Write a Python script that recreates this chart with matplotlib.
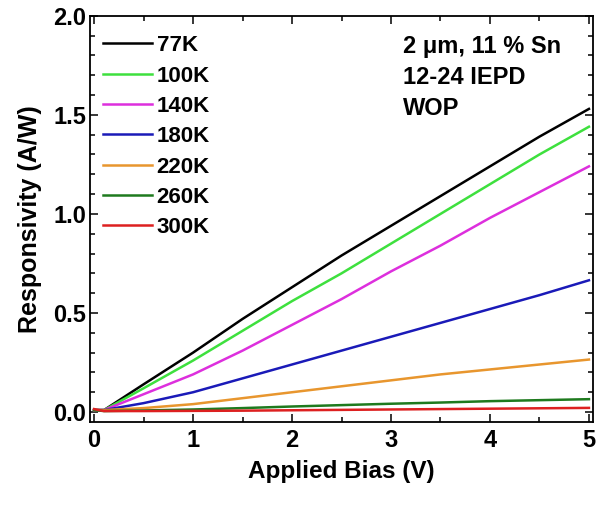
import matplotlib
matplotlib.use('Agg')
import matplotlib.pyplot as plt
from matplotlib.ticker import MultipleLocator

plt.rcParams['font.family'] = ['Liberation Sans', 'DejaVu Sans']
plt.rcParams['font.weight'] = 'bold'

# Applied bias (V) sample points
bias = [0.0, 0.1, 0.5, 1.0, 1.5, 2.0, 2.5, 3.0, 3.5, 4.0, 4.5, 5.0]

# Responsivity (A/W) per temperature
r_77 = [0.01, 0.01, 0.14, 0.30, 0.47, 0.63, 0.79, 0.94, 1.09, 1.24, 1.39, 1.53]
r_100 = [0.01, 0.01, 0.12, 0.26, 0.41, 0.56, 0.70, 0.85, 1.00, 1.15, 1.30, 1.44]
r_140 = [0.01, 0.01, 0.09, 0.19, 0.31, 0.44, 0.57, 0.71, 0.84, 0.98, 1.11, 1.24]
r_180 = [0.01, 0.01, 0.045, 0.10, 0.17, 0.24, 0.31, 0.38, 0.45, 0.52, 0.59, 0.665]
r_220 = [0.01, 0.01, 0.02, 0.04, 0.07, 0.10, 0.13, 0.16, 0.19, 0.215, 0.24, 0.265]
r_260 = [0.01, 0.005, 0.008, 0.013, 0.02, 0.028, 0.035, 0.042, 0.048, 0.055, 0.06, 0.065]
r_300 = [0.015, 0.005, 0.005, 0.006, 0.007, 0.009, 0.011, 0.013, 0.015, 0.017, 0.019, 0.021]

labels = ['77K', '100K', '140K', '180K', '220K', '260K', '300K']
series = [r_77, r_100, r_140, r_180, r_220, r_260, r_300]
colors = ['#000000', '#3ee03e', '#dd2fdd', '#1a1ab8', '#e8962e', '#1e7a1e', '#dd2020']

fig = plt.figure(figsize=(6.05, 5.09), dpi=100)
ax = fig.add_axes([0.149, 0.171, 0.831, 0.798])

for vals, lab, col in zip(series, labels, colors):
    ax.plot(bias, vals, color=col, lw=1.8, label=lab)

ax.set_xlim(-0.04, 5.04)
ax.set_ylim(-0.05, 2.0)
ax.xaxis.set_major_locator(MultipleLocator(1))
ax.xaxis.set_minor_locator(MultipleLocator(0.5))
ax.yaxis.set_major_locator(MultipleLocator(0.5))
ax.yaxis.set_minor_locator(MultipleLocator(0.1))
ax.tick_params(which='both', direction='in', top=True, right=True, width=1.1)
ax.tick_params(which='major', length=6, labelsize=17)
ax.tick_params(axis='x', which='major', pad=5)
ax.tick_params(axis='y', which='major', pad=3)
ax.tick_params(which='minor', length=3.5)
for lbl in ax.get_xticklabels() + ax.get_yticklabels():
    lbl.set_fontweight('bold')
for sp in ax.spines.values():
    sp.set_linewidth(1.3)

ax.set_xlabel('Applied Bias (V)', fontsize=17.5, fontweight='bold', labelpad=6)
ax.set_ylabel('Responsivity (A/W)', fontsize=18, fontweight='bold', labelpad=8)

leg = ax.legend(loc='upper left', bbox_to_anchor=(0.026, 0.952), frameon=False,
                borderaxespad=0, borderpad=0, handlelength=2.2, handletextpad=0.2,
                labelspacing=0.42, prop={'size': 16, 'weight': 'bold'})

ax.text(0.622, 0.952, '2 μm, 11 % Sn\n12-24 IEPD\nWOP', transform=ax.transAxes,
        ha='left', va='top', fontsize=17, fontweight='bold', linespacing=1.45)

fig.savefig('out.png', dpi=100)
